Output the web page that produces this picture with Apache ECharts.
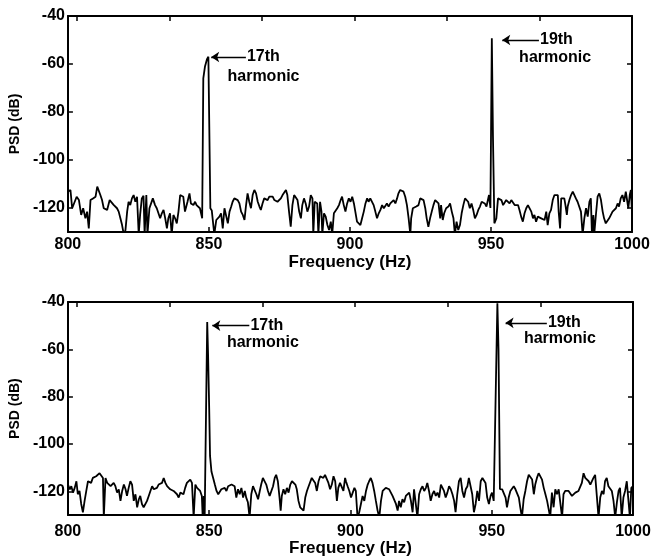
<!DOCTYPE html>
<html>
<head>
<meta charset="utf-8">
<script src="https://cdn.jsdelivr.net/npm/echarts@6/dist/echarts.min.js"></script>
<style>html,body{margin:0;padding:0;background:#fff;}#c{width:655px;height:558px;}</style>
</head>
<body>
<div id="c"></div>
<script>
// ---- Data ----
const freqTop = [800.0,800.9,801.5,802.1,803.1,803.9,804.7,805.4,806.2,806.8,807.4,808.0,808.9,809.8,810.4,810.9,811.5,812.1,812.7,813.3,813.9,814.8,815.4,816.2,816.8,817.4,818.0,818.6,819.2,819.8,820.4,821.0,821.5,822.1,822.7,823.3,823.9,824.5,825.1,825.6,826.2,826.8,827.2,827.8,828.2,828.9,829.4,830.1,830.9,831.5,832.1,832.7,833.3,833.9,834.5,835.1,835.6,836.2,836.8,837.4,838.0,838.6,839.2,839.8,840.4,840.9,841.5,842.4,843.1,843.6,844.5,845.1,845.6,846.2,846.8,847.6,848.0,848.6,849.3,849.8,850.3,850.5,851.0,851.9,852.6,853.1,853.7,854.3,854.9,855.5,856.1,856.7,857.3,857.9,858.4,859.0,859.6,860.2,860.8,861.4,862.0,862.6,863.1,863.7,864.3,864.9,865.5,866.1,866.7,867.3,867.9,868.4,869.0,869.6,870.2,870.8,871.4,872.0,872.6,873.2,873.7,874.3,874.9,875.5,876.1,876.7,877.3,877.8,878.4,879.0,879.6,880.2,880.8,881.4,882.0,882.6,883.1,883.7,884.3,884.9,885.5,886.1,886.7,887.0,887.5,887.9,888.4,888.8,889.4,889.9,890.2,890.8,891.4,892.0,892.6,893.2,893.7,894.3,894.9,895.5,896.1,896.7,897.2,897.8,898.4,899.0,899.6,900.2,900.8,901.4,901.9,902.5,903.1,903.7,904.3,904.9,905.5,906.1,906.6,907.2,907.8,908.4,909.0,909.6,910.2,910.8,911.4,912.0,912.5,913.1,913.7,914.3,914.9,915.5,916.1,916.7,917.2,917.8,918.4,919.0,919.6,920.2,920.8,921.4,921.7,922.3,922.8,923.5,924.3,924.9,925.5,926.1,926.7,927.2,927.8,928.4,929.0,929.6,930.2,930.8,931.4,932.0,932.3,932.9,933.4,934.1,934.9,935.5,936.1,936.7,937.2,937.8,938.4,939.0,939.6,940.2,940.8,941.4,941.9,942.5,943.1,943.7,944.3,944.9,945.5,946.1,946.7,947.2,947.8,948.4,949.0,949.3,949.8,950.3,950.7,951.2,951.9,952.5,953.1,953.7,954.3,954.8,955.4,956.0,956.6,957.2,957.8,958.4,959.0,959.6,960.1,960.7,961.3,961.9,962.5,963.1,963.7,964.3,964.9,965.4,966.0,966.6,967.2,967.8,968.4,969.0,969.6,970.1,970.7,971.3,971.9,972.5,973.1,973.7,974.0,974.5,974.9,975.4,976.0,976.4,976.9,977.2,977.8,978.4,979.0,979.6,980.1,980.7,981.3,981.9,982.5,983.1,983.7,984.3,984.9,985.4,985.8,986.3,986.6,987.2,987.8,988.4,989.0,989.6,990.1,990.7,991.3,991.9,992.5,993.1,993.7,994.3,994.9,995.4,996.0,996.6,997.2,997.8,998.4,998.7,999.2,999.6,1000.0];
const psdTop = [-113.2,-112.5,-120.1,-120.1,-115.3,-116.7,-122.9,-120.1,-124.3,-121.5,-128.5,-116.7,-116.0,-115.3,-111.1,-111.5,-114.6,-116.7,-120.1,-119.4,-120.8,-116.7,-116.0,-118.7,-118.1,-120.1,-121.5,-124.3,-127.1,-131,-129.2,-121.5,-117.4,-118.8,-116.0,-114.6,-117.4,-115.3,-131,-122.9,-116.0,-114.9,-131,-114.6,-131,-120.1,-119.4,-116.0,-118.8,-120.1,-120.1,-124.3,-122.2,-120.8,-124.3,-128.5,-124.3,-122.2,-131,-122.9,-124.3,-126.4,-121.5,-114.6,-113.9,-115.3,-121.5,-117.4,-113.9,-118.1,-118.8,-117.4,-118.8,-118.8,-120.1,-124.3,-66,-61,-58,-57,-57.5,-120.1,-121,-131,-125,-124.3,-123.6,-122.2,-128.5,-120.1,-120.8,-126.4,-121.5,-119.4,-117.4,-116,-115.3,-116.7,-118.1,-121.5,-122.9,-125,-119.4,-113.9,-117.4,-120.1,-114.6,-112.5,-113.9,-117.4,-119.4,-120.8,-118.1,-116,-115.3,-116.7,-115.3,-114.6,-115.3,-116.7,-116,-117.4,-117.4,-116,-114.6,-113.9,-112.5,-114.6,-121.5,-127.8,-118.8,-114.6,-113.9,-116.7,-121.5,-124.3,-118.8,-116,-118.1,-121.5,-119.4,-114.6,-116,-131,-117.4,-117.1,-118.1,-131,-117.4,-121.5,-131,-122.2,-123.6,-127.1,-129.2,-125.7,-131,-122.2,-121.5,-120.1,-118.8,-116.7,-115.3,-118.8,-121.5,-118.1,-116,-117.4,-115.3,-118.1,-121.5,-125.7,-126.4,-127.1,-124.3,-121.5,-118.1,-116,-117.4,-116,-116.7,-118.8,-121.5,-124.3,-122.2,-120.8,-118.8,-120.1,-119.4,-118.1,-119.4,-118.1,-117.4,-116.7,-118.1,-116,-113.9,-112.5,-112.5,-113.2,-115.3,-118.8,-124.3,-131,-124.3,-120.1,-119.4,-119.4,-118.8,-116,-115.3,-116.7,-120.1,-124.3,-127.8,-124.3,-121.5,-118.8,-116.7,-116,-118.1,-124.3,-118.8,-125,-122.2,-120.1,-119.4,-118.1,-121.5,-124.3,-131,-125.7,-129.2,-127.1,-122.2,-118.8,-116,-115.3,-117.4,-120.1,-118.1,-120.8,-124.3,-122.9,-120.8,-119.4,-117.4,-117.4,-118.1,-119.4,-120.1,-114.6,-120,-49.3,-90,-126.4,-124.3,-116,-115.3,-116.7,-118.8,-118.1,-116.7,-117.4,-118.1,-116.7,-117.4,-118.8,-118.1,-118.8,-120.8,-123.6,-125.7,-122.2,-120.1,-118.8,-119.4,-121.5,-124.3,-122.9,-125.7,-123.6,-124.3,-124.3,-123.6,-125,-121.5,-127.1,-122.2,-120.8,-116.7,-114.6,-113.9,-114.6,-121.5,-128.5,-116,-115.3,-116,-118.8,-122.9,-119.4,-116.7,-114.6,-113.2,-113.9,-116,-117.4,-118.1,-121.5,-131,-124.3,-120.1,-123.6,-117.4,-116,-131,-122.9,-131,-122.9,-115.3,-113.9,-116.7,-121.5,-124.3,-126.4,-127.1,-124.3,-123.6,-121.5,-120.8,-120.1,-118.1,-119.4,-116,-114.6,-117.4,-113.2,-112.5,-120.1,-114.6,-112.5,-122];

const freqBot = [800.0,800.7,801.2,801.8,802.4,803.0,803.5,804.1,804.7,805.3,805.9,806.5,807.1,807.6,808.2,808.8,809.4,810.0,810.6,811.2,811.8,812.4,812.7,813.3,813.9,814.5,815.1,815.7,816.2,816.8,817.4,818.0,818.6,819.2,819.8,820.4,820.9,821.5,822.1,822.7,823.3,823.9,824.5,825.1,825.6,826.2,826.8,827.4,828.0,828.6,829.2,829.8,830.4,830.9,831.5,832.1,832.7,833.3,833.9,834.5,835.1,835.7,836.2,836.8,837.4,838.0,838.6,839.2,839.8,840.4,840.9,841.5,842.1,842.7,843.3,843.9,844.5,845.1,845.7,846.2,846.8,847.4,847.7,848.1,848.4,848.9,849.3,849.6,850.0,850.3,850.8,851.4,852.0,852.6,853.2,853.7,854.3,854.9,855.5,856.1,856.7,857.3,857.9,858.4,859.0,859.6,860.2,860.8,861.4,862.0,862.6,863.1,863.7,864.3,864.9,865.5,866.1,866.7,867.3,867.9,868.4,869.0,869.6,870.2,870.8,871.4,872.0,872.6,873.2,873.7,874.3,874.9,875.3,875.7,876.3,876.9,877.5,878.1,878.7,879.3,879.9,880.5,881.0,881.6,882.2,882.8,883.4,884.0,884.6,885.2,885.7,886.3,886.9,887.5,888.1,888.7,889.3,889.9,890.4,891.0,891.6,892.2,892.8,893.4,894.0,894.6,895.2,895.7,896.3,896.9,897.5,898.1,898.4,899.0,899.6,900.2,900.8,901.4,901.9,902.5,903.1,903.7,904.3,904.9,905.5,906.1,906.6,907.2,907.8,908.4,909.0,909.6,910.2,910.8,911.4,912.0,912.5,913.1,913.7,914.3,914.9,915.5,916.1,916.7,917.2,917.8,918.4,919.0,919.6,920.2,920.8,921.4,922.0,922.5,923.1,923.7,924.3,924.9,925.5,926.1,926.7,927.2,927.8,928.4,929.0,929.6,930.2,930.8,931.4,932.0,932.5,933.1,933.7,934.3,934.9,935.5,936.1,936.7,937.2,937.8,938.4,939.0,939.6,940.2,940.8,941.4,941.9,942.5,943.1,943.7,944.3,944.9,945.5,946.1,946.7,947.2,947.8,948.4,949.0,949.6,950.1,950.7,951.3,952.0,952.4,952.9,953.7,954.3,954.9,955.4,956.0,956.6,957.2,957.8,958.4,959.0,959.6,960.1,960.7,961.3,961.9,962.5,963.1,963.7,964.3,964.9,965.4,966.0,966.6,967.2,967.8,968.4,969.0,969.6,970.1,970.7,971.3,971.9,972.5,973.1,973.7,974.3,974.9,975.4,976.0,976.6,977.2,977.8,978.4,979.0,979.6,980.1,980.7,981.3,981.9,982.5,983.1,983.7,984.3,984.9,985.4,986.0,986.6,987.2,987.8,988.4,989.0,989.6,990.1,990.7,991.3,991.9,992.5,993.1,993.7,994.3,994.9,995.4,996.0,996.6,997.2,997.8,998.4,998.9,999.4,1000.0];
const psdBot = [-117.1,-119.1,-117.8,-120.5,-118.5,-115.7,-121.2,-119.8,-125.3,-128.8,-124,-119.8,-115.7,-115,-116.4,-114.3,-115,-113.6,-114.3,-112.3,-113,-114.3,-131,-114.3,-116.4,-115.7,-117.8,-117.8,-116.4,-117.8,-120.5,-119.1,-124,-119.8,-117.1,-119.1,-121.9,-118.5,-115.7,-117.1,-124,-121.2,-126.7,-123.3,-121.9,-125.3,-126.7,-126,-124,-121.9,-119.8,-117.8,-119.1,-118.5,-118.5,-117.1,-117.8,-116.4,-114.3,-116.4,-117.8,-118.5,-119.1,-119.1,-119.8,-120.5,-121.2,-122.6,-120.5,-119.8,-121.2,-118.5,-116.4,-115.7,-115,-116.4,-131,-117.1,-118.5,-119.1,-119.8,-121.9,-131,-122,-131,-131,-48.5,-62,-85,-105,-111.6,-114.3,-117.1,-119.8,-121.2,-120.5,-119.1,-119.8,-118.5,-119.8,-117.8,-118.5,-117.1,-116.4,-117.8,-122.6,-119.1,-121.2,-118.5,-122.6,-119.8,-122.6,-124.6,-131,-121.2,-117.8,-118.5,-121.2,-123.3,-119.8,-117.1,-114.3,-114.3,-117.1,-119.8,-121.9,-121.2,-117.8,-114.3,-113,-115.7,-122.6,-128.1,-121.9,-119.1,-121.2,-118.5,-120.5,-117.1,-115.7,-115,-117.1,-119.1,-124,-126.7,-126,-128.1,-122.6,-119.8,-117.8,-117.1,-114.3,-113.6,-116.4,-119.8,-115.7,-113.6,-113,-114.3,-113,-113.6,-116.4,-119.1,-117.1,-113.6,-115.7,-124,-118.5,-116.4,-117.1,-119.8,-114.3,-115.7,-117.8,-119.8,-122.6,-120.5,-118.5,-119.8,-131,-128.8,-125.3,-121.9,-124,-119.8,-117.1,-115.7,-114.3,-116.4,-119.8,-124,-128.1,-131,-124,-119.8,-119.1,-118.5,-117.8,-119.1,-120.5,-121.9,-122.6,-125.3,-128.1,-124,-126.7,-123.3,-124.6,-121.9,-121.2,-120.5,-124,-128.8,-119.1,-118.5,-131,-121.2,-119.1,-117.8,-119.8,-118.5,-116.4,-119.8,-124,-121.2,-119.8,-121.9,-120.5,-122.6,-117.1,-117.8,-119.8,-122.6,-120.5,-117.8,-119.1,-121.2,-124,-128.8,-121.2,-115.7,-114.3,-119.8,-122.6,-119.1,-117.8,-114.3,-113.6,-121.2,-128.8,-125.3,-119.8,-124,-115.7,-114.3,-114.3,-116.4,-122.6,-125.3,-121.9,-120.5,-124,-124,-40.5,-60,-119,-119.1,-118.5,-122.6,-126.7,-122.6,-119.8,-119.1,-117.8,-119.1,-119.8,-122.6,-126.7,-131,-123.3,-119.8,-115.7,-113,-112.3,-115,-121.2,-117.1,-114.3,-112.3,-111.6,-115,-118.5,-121.2,-124,-123.3,-131,-120.5,-126.7,-119.1,-121.2,-119.1,-119.8,-131,-121.2,-119.8,-120.5,-119.8,-119.1,-121.9,-122.6,-120.5,-119.8,-119.8,-119.1,-116.4,-112.3,-114.3,-115,-115.7,-117.1,-116.4,-114.3,-113,-113.6,-131,-122.6,-119.8,-121.2,-115.7,-114.3,-117.8,-117.1,-119.8,-124,-131,-124.6,-119.8,-118.5,-131,-122.6,-119.8,-115.7,-115,-131,-118.5,-117.8];

const xTicks = [800, 850, 900, 950, 1000];
const yTicks = [-120, -100, -80, -60, -40];
const topTicks = [803.2, 836.0, 868.8, 901.6, 934.4, 967.2];

// ---- Chart ----
const FONT = "'Liberation Sans', Arial, sans-serif";
const BLACK = '#000';
function pairs(xs, ys) { return xs.map((x, i) => [x, ys[i]]); }
const plain = v => String(v);

function xBottom(grid, margin, nameGap) {
  return {
    type: 'value', gridIndex: grid, position: 'bottom', min: 800, max: 1000,
    axisLine: { show: true, onZero: false, lineStyle: { color: BLACK, width: 2 } },
    axisTick: { show: true, inside: true, length: 5, customValues: xTicks, lineStyle: { color: BLACK, width: 1.5 } },
    axisLabel: { show: true, customValues: xTicks, formatter: plain, color: BLACK, fontSize: 16, fontWeight: 'bold', fontFamily: FONT, margin: margin },
    splitLine: { show: false },
    name: 'Frequency (Hz)', nameLocation: 'middle', nameGap: nameGap,
    nameTextStyle: { color: BLACK, fontSize: 17, fontWeight: 'bold', fontFamily: FONT }
  };
}
function xTop(grid) {
  return {
    type: 'value', gridIndex: grid, position: 'top', min: 800, max: 1000,
    axisLine: { show: true, onZero: false, lineStyle: { color: BLACK, width: 2 } },
    axisTick: { show: true, inside: true, length: 5, customValues: topTicks, lineStyle: { color: BLACK, width: 1.5 } },
    axisLabel: { show: false }, splitLine: { show: false }
  };
}
function yLeft(grid) {
  return {
    type: 'value', gridIndex: grid, position: 'left', min: -130, max: -40,
    axisLine: { show: true, onZero: false, lineStyle: { color: BLACK, width: 2 } },
    axisTick: { show: true, inside: true, length: 5, customValues: yTicks, lineStyle: { color: BLACK, width: 1.5 } },
    axisLabel: { show: true, customValues: yTicks, formatter: plain, color: BLACK, fontSize: 16, fontWeight: 'bold', fontFamily: FONT, margin: 3 },
    splitLine: { show: false },
    name: 'PSD (dB)', nameLocation: 'middle', nameGap: 44, nameRotate: 90,
    nameTextStyle: { color: BLACK, fontSize: 14, fontWeight: 'bold', fontFamily: FONT }
  };
}
function yRight(grid) {
  return {
    type: 'value', gridIndex: grid, position: 'right', min: -130, max: -40,
    axisLine: { show: true, onZero: false, lineStyle: { color: BLACK, width: 2 } },
    axisTick: { show: true, inside: true, length: 5, customValues: yTicks, lineStyle: { color: BLACK, width: 1.5 } },
    axisLabel: { show: false }, splitLine: { show: false }
  };
}

function textPoint(txt, f, v) {
  return {
    coord: [f, v], symbol: 'circle', symbolSize: 1, itemStyle: { color: 'rgba(0,0,0,0)' },
    label: { show: true, formatter: txt, position: 'right', distance: 0, color: BLACK,
             fontSize: 16, fontWeight: 'bold', fontFamily: FONT }
  };
}
function arrow(f0, f1, v) {
  return [{ coord: [f0, v] }, { coord: [f1, v] }];
}
function markers(ann) {
  return {
    markPoint: { silent: true, animation: false, data: ann.texts.map(t => textPoint(t[0], t[1], t[2])) },
    markLine: {
      silent: true, animation: false, symbol: ['arrow', 'none'], symbolSize: 8,
      label: { show: false }, lineStyle: { color: BLACK, width: 1.3, type: 'solid' },
      itemStyle: { color: BLACK },
      emphasis: { disabled: true },
      data: ann.arrows.map(a => arrow(a[0], a[1], a[2]))
    }
  };
}

const annTop = {
  texts: [['17th', 863.3, -57.1], ['harmonic', 856.4, -65.4], ['19th', 967.2, -50.0], ['harmonic', 959.8, -57.5]],
  arrows: [[850.8, 863.1, -57.1], [954.0, 967.0, -50.0]]
};
const annBot = {
  texts: [['17th', 864.4, -50.0], ['harmonic', 856.1, -57.0], ['19th', 969.7, -48.8], ['harmonic', 961.2, -55.4]],
  arrows: [[851.1, 864.2, -50.0], [954.9, 969.5, -48.8]]
};

const chart = echarts.init(document.getElementById('c'), null, { renderer: 'canvas' });
chart.setOption({
  animation: false,
  backgroundColor: '#fff',
  grid: [
    { left: 66, top: 16, width: 566, height: 216 },
    { left: 66, top: 302, width: 567, height: 219 }
  ],
  xAxis: [xBottom(0, 5, 21), xTop(0), xBottom(1, 8, 23), xTop(1)],
  yAxis: [yLeft(0), yRight(0), yLeft(1), yRight(1)],
  series: [
    Object.assign({
      type: 'line', xAxisIndex: 0, yAxisIndex: 0, data: pairs(freqTop, psdTop),
      showSymbol: false, symbol: 'none', clip: true,
      lineStyle: { color: BLACK, width: 1.8 }, itemStyle: { color: BLACK }
    }, markers(annTop)),
    Object.assign({
      type: 'line', xAxisIndex: 2, yAxisIndex: 2, data: pairs(freqBot, psdBot),
      showSymbol: false, symbol: 'none', clip: true,
      lineStyle: { color: BLACK, width: 1.8 }, itemStyle: { color: BLACK }
    }, markers(annBot))
  ]
});
</script>
</body>
</html>
